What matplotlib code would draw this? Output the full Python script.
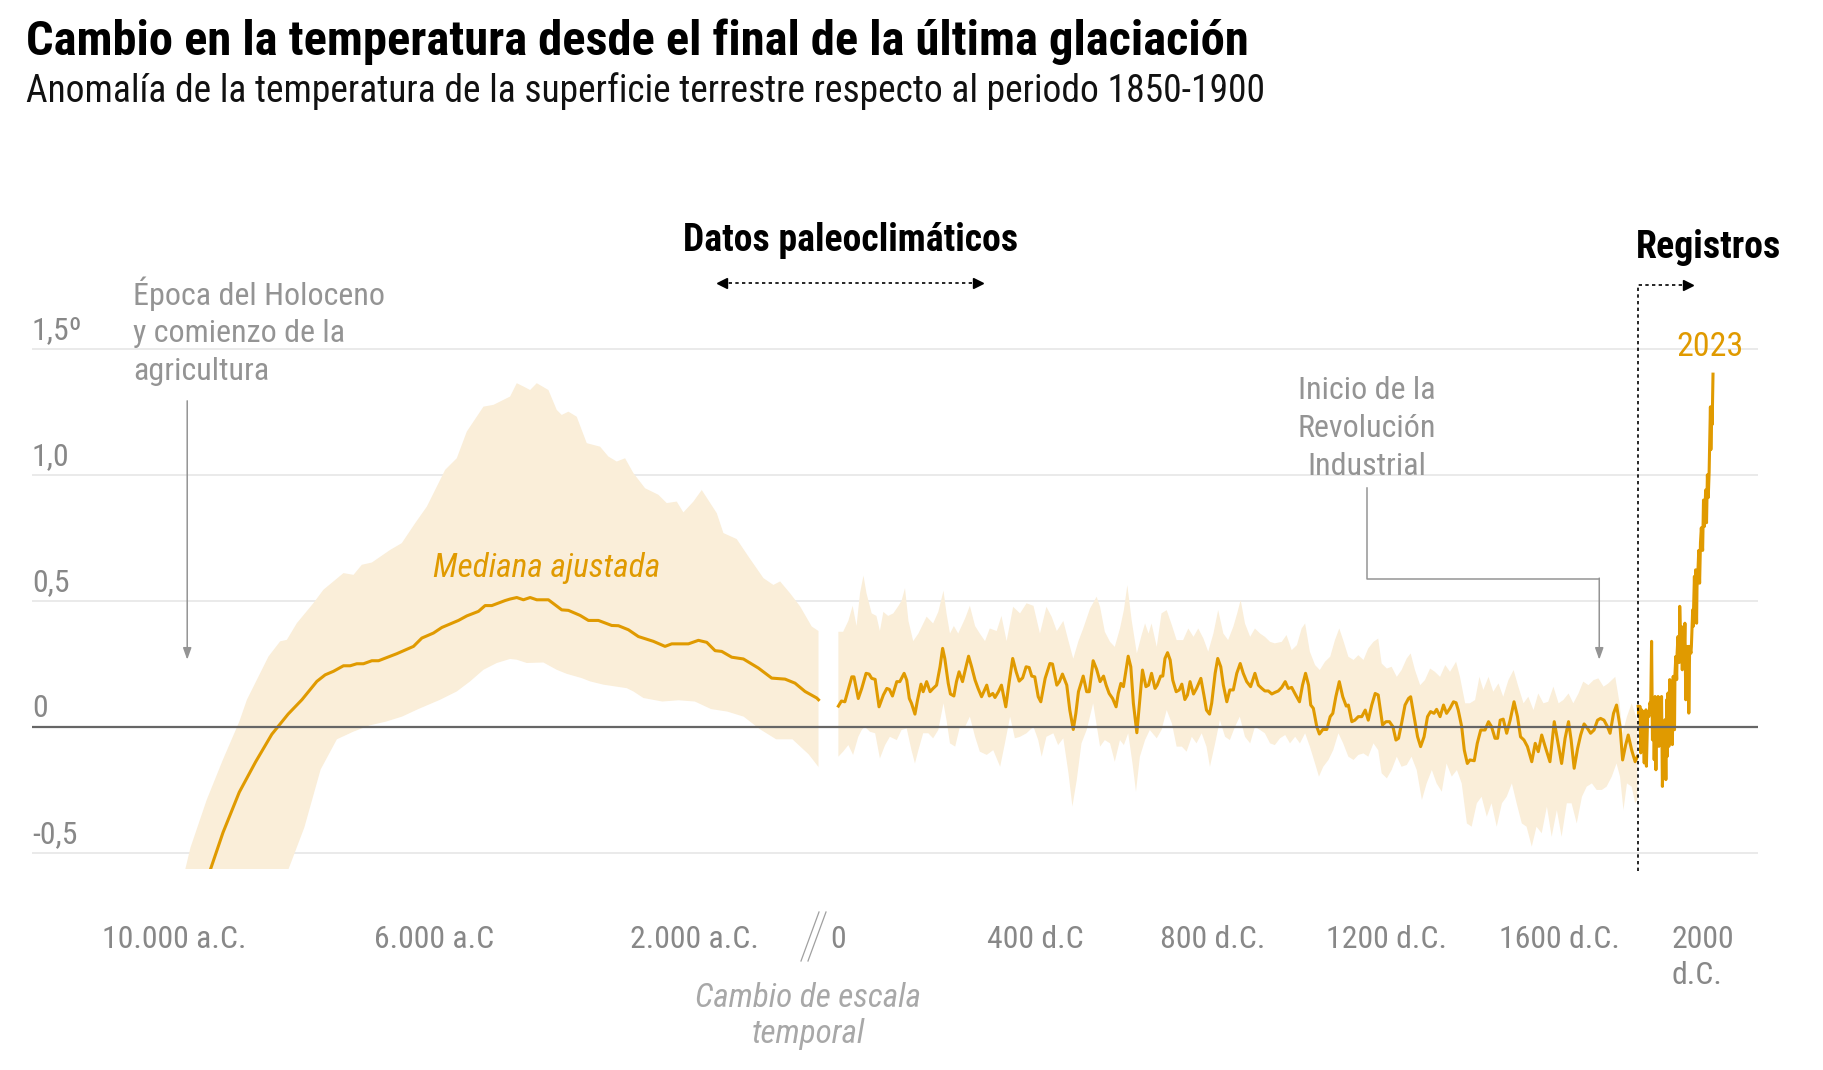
import matplotlib
matplotlib.use('Agg')
import matplotlib.pyplot as plt
from matplotlib import font_manager
from matplotlib.lines import Line2D

# --- data --------------------------------------------------------------------
# Holocene reconstruction (years, negative = a.C.)
holo_years = [-10000, -9750, -9500, -9250, -9000, -8750, -8500, -8250, -8038, -7808, -7680,
              -7553, -7399, -7296, -7194, -7092, -6963, -6860, -6579, -6323, -6195, -6016,
              -5888, -5632, -5504, -5325, -5223, -5120, -4915, -4839, -4736, -4634, -4531,
              -4429, -4250, -4045, -3943, -3763, -3635, -3482, -3277, -3174, -3021, -2867,
              -2637, -2458, -2355, -2099, -1945, -1817, -1689, -1587, -1433, -1254, -1024,
              -819, -614, -461, -307, -127, -100]
holo_median = [-0.95, -0.78, -0.61, -0.42, -0.26, -0.14, -0.03, 0.05, 0.107, 0.18, 0.206,
               0.22, 0.242, 0.242, 0.25, 0.25, 0.262, 0.262, 0.29, 0.319, 0.352, 0.372,
               0.394, 0.422, 0.44, 0.458, 0.481, 0.481, 0.501, 0.507, 0.513, 0.504, 0.513,
               0.504, 0.504, 0.464, 0.462, 0.442, 0.422, 0.422, 0.402, 0.401, 0.385, 0.358,
               0.339, 0.319, 0.329, 0.329, 0.343, 0.335, 0.302, 0.299, 0.276, 0.269, 0.233,
               0.193, 0.189, 0.173, 0.14, 0.114, 0.107]

holo_up_years = [-10000, -9750, -9500, -9250, -9000, -8883, -8551, -8372, -8269, -8116, -7860,
                 -7707, -7399, -7245, -7117, -6963, -6682, -6503, -6298, -6118, -5837, -5658,
                 -5504, -5248, -5095, -4839, -4736, -4634, -4531, -4429, -4250, -4122, -4045,
                 -3943, -3815, -3661, -3456, -3329, -3200, -3072, -2944, -2765, -2560, -2432,
                 -2278, -2176, -2022, -1894, -1663, -1561, -1356, -1177, -946, -793, -690,
                 -537, -383, -204, -100]
holo_up = [-0.75, -0.48, -0.29, -0.13, 0.02, 0.107, 0.279, 0.339, 0.345, 0.411, 0.491,
           0.544, 0.610, 0.603, 0.643, 0.652, 0.702, 0.729, 0.808, 0.874, 1.02, 1.066,
           1.172, 1.271, 1.278, 1.311, 1.364, 1.351, 1.337, 1.364, 1.337, 1.258, 1.238,
           1.251, 1.231, 1.126, 1.112, 1.073, 1.053, 1.066, 1.007, 0.947, 0.921, 0.888,
           0.894, 0.851, 0.894, 0.940, 0.848, 0.769, 0.745, 0.676, 0.590, 0.563, 0.577,
           0.530, 0.478, 0.398, 0.38]

holo_lo_years = [-10000, -9000, -8500, -8250, -8000, -7750, -7500, -7250, -7000, -6750,
                 -6500, -6250, -5914, -5658, -5453, -5248, -5043, -4839, -4736, -4582,
                 -4327, -4122, -3969, -3738, -3610, -3405, -3046, -2944, -2790, -2500,
                 -2250, -2000, -1750, -1500, -1250, -1000, -750, -500, -250, -100]
holo_lo = [-1.3, -0.9, -0.7, -0.57, -0.40, -0.17, -0.05, -0.02, 0.005, 0.02,
           0.04, 0.07, 0.107, 0.14, 0.18, 0.226, 0.253, 0.269, 0.266, 0.253,
           0.255, 0.226, 0.21, 0.193, 0.18, 0.167, 0.153, 0.14, 0.114, 0.10,
           0.105, 0.10, 0.07, 0.06, 0.04, -0.01, -0.05, -0.05, -0.11, -0.16]

# Common Era paleo reconstruction, 0 - 1850 d.C.
paleo_years = [1, 8, 16, 32, 37, 47, 55, 65, 72, 78, 86, 95, 105, 113, 119, 126, 136, 143,
               153, 159, 165, 170, 178, 184, 192, 197, 205, 213, 220, 228, 236, 242, 247,
               255, 260, 268, 274, 280, 288, 296, 302, 309, 317, 324, 332, 344, 350, 358,
               363, 371, 378, 388, 396, 404, 412, 419, 427, 435, 442, 448, 455, 463, 469,
               479, 490, 496, 506, 512, 519, 529, 536, 544, 550, 556, 567, 575, 581, 590,
               598, 606, 614, 620, 627, 635, 643, 648, 654, 660, 666, 671, 677, 683, 691,
               697, 704, 712, 718, 725, 733, 738, 746, 751, 756, 762, 768, 774, 782, 789,
               795, 802, 808, 814, 822, 829, 839, 846, 852, 859, 864, 872, 878, 885, 891,
               899, 906, 914, 922, 930, 937, 945, 954, 964, 972, 980, 987, 995, 1003, 1010,
               1018, 1026, 1034, 1041, 1049, 1057, 1067, 1074, 1081, 1088, 1093, 1099, 1107,
               1113, 1121, 1130, 1138, 1144, 1151, 1159, 1167, 1175, 1180, 1188, 1195, 1203,
               1211, 1219, 1226, 1234, 1242, 1249, 1259, 1267, 1275, 1283, 1290, 1296, 1303,
               1311, 1319, 1324, 1332, 1340, 1347, 1355, 1363, 1370, 1378, 1384, 1392, 1400,
               1407, 1415, 1423, 1429, 1434, 1442, 1448, 1455, 1461, 1471, 1478, 1486, 1496,
               1504, 1511, 1519, 1525, 1531, 1538, 1546, 1554, 1563, 1571, 1578, 1586, 1594,
               1604, 1612, 1619, 1627, 1635, 1646, 1656, 1666, 1673, 1681, 1689, 1695, 1702,
               1710, 1717, 1725, 1733, 1740, 1748, 1756, 1763, 1771, 1779, 1785, 1793, 1800,
               1808, 1814, 1821, 1827, 1835, 1843, 1848]
paleo_median = [0.082, 0.102, 0.099, 0.198, 0.198, 0.112, 0.152, 0.212, 0.209, 0.192, 0.188,
                0.079, 0.126, 0.152, 0.148, 0.122, 0.179, 0.179, 0.212, 0.185, 0.112, 0.093,
                0.050, 0.106, 0.169, 0.139, 0.179, 0.139, 0.152, 0.165, 0.238, 0.311, 0.271,
                0.172, 0.130, 0.122, 0.179, 0.218, 0.179, 0.238, 0.280, 0.238, 0.185, 0.152,
                0.119, 0.165, 0.122, 0.132, 0.116, 0.139, 0.165, 0.079, 0.179, 0.271, 0.218,
                0.181, 0.194, 0.238, 0.235, 0.201, 0.198, 0.119, 0.099, 0.192, 0.251, 0.249,
                0.165, 0.179, 0.209, 0.165, 0.066, -0.011, 0.053, 0.139, 0.201, 0.139, 0.139,
                0.262, 0.228, 0.179, 0.201, 0.165, 0.132, 0.112, 0.079, 0.132, 0.172, 0.159,
                0.225, 0.280, 0.238, 0.093, -0.024, 0.093, 0.225, 0.159, 0.165, 0.212, 0.152,
                0.165, 0.201, 0.201, 0.271, 0.294, 0.265, 0.185, 0.139, 0.146, 0.169, 0.108,
                0.126, 0.179, 0.130, 0.152, 0.192, 0.126, 0.066, 0.050, 0.093, 0.212, 0.271,
                0.238, 0.165, 0.099, 0.146, 0.146, 0.212, 0.251, 0.212, 0.179, 0.159, 0.212,
                0.165, 0.152, 0.142, 0.142, 0.130, 0.136, 0.142, 0.156, 0.179, 0.152, 0.156,
                0.130, 0.099, 0.165, 0.212, 0.165, 0.086, 0.073, 0.000, -0.029, -0.011,
                -0.011, 0.040, 0.053, 0.119, 0.179, 0.119, 0.082, 0.086, 0.020, 0.026, 0.040,
                0.040, 0.066, 0.026, 0.086, 0.132, 0.126, 0.007, 0.020, 0.020, 0.000, -0.053,
                -0.046, 0.013, 0.086, 0.112, 0.119, 0.040, -0.040, -0.079, -0.040, 0.040,
                0.060, 0.053, 0.069, 0.040, 0.086, 0.053, 0.073, 0.099, 0.095, 0.066, 0.000,
                -0.093, -0.146, -0.132, -0.135, -0.066, -0.013, -0.013, 0.020, 0.000, -0.046,
                -0.046, 0.026, 0.030, -0.026, 0.026, 0.099, 0.040, -0.040, -0.053, -0.079,
                -0.139, -0.066, -0.099, -0.033, -0.079, -0.139, 0.020, -0.079, -0.146, -0.046,
                0.020, -0.053, -0.165, -0.086, -0.033, 0.011, -0.007, -0.026, -0.013, 0.026,
                0.033, 0.026, 0.000, -0.026, 0.053, 0.086, 0.000, -0.132, -0.073, -0.033,
                -0.093, -0.139, -0.119]

band_up_years = [1, 12, 24, 34, 43, 51, 59, 66, 78, 89, 97, 105, 116, 128, 140, 147, 155, 163,
                 174, 186, 205, 220, 232, 244, 251, 259, 268, 278, 286, 294, 305, 317, 328,
                 340, 351, 367, 378, 390, 405, 421, 436, 452, 467, 482, 494, 506, 521, 533,
                 544, 556, 567, 583, 598, 606, 617, 629, 640, 652, 661, 669, 679, 691, 702,
                 710, 718, 725, 737, 748, 760, 772, 783, 798, 810, 822, 833, 845, 856, 868,
                 879, 891, 902, 914, 923, 931, 941, 953, 964, 976, 987, 999, 1010, 1026, 1037,
                 1049, 1061, 1072, 1080, 1091, 1103, 1114, 1126, 1138, 1149, 1159, 1168, 1180,
                 1192, 1203, 1215, 1226, 1238, 1249, 1257, 1269, 1280, 1292, 1303, 1315, 1324,
                 1334, 1346, 1357, 1369, 1380, 1392, 1404, 1415, 1429, 1438, 1450, 1461, 1473,
                 1483, 1492, 1504, 1515, 1527, 1538, 1550, 1562, 1573, 1585, 1596, 1608, 1619,
                 1631, 1642, 1654, 1666, 1677, 1689, 1700, 1712, 1723, 1735, 1747, 1758, 1770,
                 1781, 1797, 1807, 1814, 1824, 1835, 1848]
band_up = [0.377, 0.377, 0.42, 0.48, 0.40, 0.53, 0.60, 0.53, 0.45, 0.44, 0.38, 0.456, 0.44,
           0.45, 0.48, 0.50, 0.55, 0.42, 0.34, 0.37, 0.437, 0.41, 0.456, 0.54, 0.45, 0.37,
           0.40, 0.37, 0.40, 0.43, 0.48, 0.40, 0.37, 0.34, 0.39, 0.38, 0.44, 0.34, 0.476,
           0.45, 0.49, 0.48, 0.37, 0.476, 0.437, 0.38, 0.42, 0.34, 0.27, 0.34, 0.39, 0.47,
           0.516, 0.476, 0.377, 0.337, 0.317, 0.39, 0.463, 0.562, 0.423, 0.291, 0.364, 0.41,
           0.37, 0.41, 0.317, 0.45, 0.463, 0.403, 0.344, 0.344, 0.39, 0.357, 0.39, 0.35,
           0.298, 0.37, 0.463, 0.37, 0.344, 0.397, 0.45, 0.503, 0.41, 0.357, 0.39, 0.37,
           0.357, 0.337, 0.331, 0.337, 0.364, 0.304, 0.324, 0.39, 0.41, 0.298, 0.245, 0.225,
           0.258, 0.278, 0.344, 0.39, 0.344, 0.278, 0.265, 0.284, 0.265, 0.311, 0.337, 0.35,
           0.251, 0.231, 0.238, 0.198, 0.225, 0.271, 0.291, 0.225, 0.165, 0.185, 0.231,
           0.218, 0.198, 0.245, 0.218, 0.258, 0.198, 0.093, 0.093, 0.106, 0.198, 0.146,
           0.198, 0.139, 0.172, 0.119, 0.185, 0.225, 0.159, 0.093, 0.119, 0.066, 0.132,
           0.093, 0.099, 0.159, 0.093, 0.106, 0.132, 0.093, 0.132, 0.179, 0.165, 0.185,
           0.192, 0.159, 0.172, 0.198, 0.093, -0.026, 0.040, 0.093, 0.026]

band_lo_years = [1, 12, 24, 35, 47, 55, 62, 74, 86, 97, 109, 120, 136, 147, 159, 170, 178, 186,
                 197, 209, 220, 232, 244, 251, 259, 271, 282, 294, 305, 317, 328, 344, 359,
                 375, 386, 398, 409, 421, 436, 452, 463, 471, 482, 498, 509, 521, 533, 542,
                 552, 563, 575, 590, 606, 617, 629, 640, 652, 661, 671, 681, 689, 698, 710,
                 721, 737, 748, 760, 772, 783, 795, 806, 818, 829, 841, 852, 860, 872, 883,
                 895, 906, 918, 929, 941, 953, 964, 976, 987, 999, 1010, 1022, 1034, 1045,
                 1057, 1068, 1080, 1091, 1103, 1112, 1122, 1134, 1145, 1157, 1168, 1180, 1192,
                 1203, 1215, 1226, 1238, 1249, 1257, 1269, 1280, 1292, 1303, 1315, 1326, 1338,
                 1350, 1361, 1373, 1384, 1396, 1407, 1419, 1431, 1442, 1454, 1465, 1477, 1488,
                 1500, 1511, 1523, 1535, 1546, 1558, 1569, 1581, 1592, 1604, 1615, 1627, 1639,
                 1650, 1662, 1673, 1685, 1696, 1708, 1720, 1731, 1743, 1754, 1766, 1777, 1789,
                 1800, 1808, 1816, 1824, 1835, 1843, 1848]
band_lo = [-0.119, -0.099, -0.073, -0.112, -0.040, -0.013, 0.0, -0.020, -0.026, -0.126,
           -0.073, -0.040, -0.053, -0.013, -0.007, -0.093, -0.146, -0.093, -0.026, -0.026,
           -0.046, -0.013, 0.093, 0.026, -0.066, -0.079, 0.0, 0.0, 0.040, -0.040, -0.099,
           -0.112, -0.093, -0.159, -0.066, 0.040, -0.046, -0.040, -0.026, 0.0, -0.053,
           -0.119, -0.040, -0.026, -0.073, -0.046, -0.185, -0.317, -0.212, -0.066, -0.013,
           0.093, -0.079, -0.053, -0.066, -0.139, -0.053, -0.073, -0.026, -0.146, -0.258,
           -0.119, -0.053, -0.013, -0.046, -0.013, 0.066, 0.013, -0.079, -0.079, -0.099,
           -0.040, -0.066, -0.026, -0.079, -0.159, -0.066, 0.026, -0.040, -0.053, 0.0, 0.040,
           -0.040, -0.066, 0.0, -0.013, -0.026, -0.066, -0.073, -0.046, -0.033, -0.066,
           -0.040, -0.066, -0.026, -0.079, -0.146, -0.198, -0.159, -0.132, -0.093, -0.026,
           -0.066, -0.119, -0.132, -0.112, -0.106, -0.119, -0.066, -0.093, -0.185, -0.205,
           -0.172, -0.119, -0.159, -0.152, -0.119, -0.172, -0.291, -0.225, -0.172, -0.225,
           -0.258, -0.146, -0.198, -0.172, -0.225, -0.384, -0.397, -0.304, -0.278, -0.357,
           -0.304, -0.397, -0.304, -0.278, -0.225, -0.304, -0.384, -0.397, -0.476, -0.397,
           -0.423, -0.317, -0.437, -0.331, -0.437, -0.304, -0.304, -0.384, -0.278, -0.238,
           -0.225, -0.251, -0.251, -0.238, -0.198, -0.146, -0.198, -0.331, -0.225, -0.238,
           -0.304, -0.291]

# Instrumental records 1850 - 2023
rec_years = [1850, 1852, 1854, 1856, 1858, 1860, 1862, 1864, 1865, 1868, 1869, 1872, 1875,
             1877, 1879, 1881, 1883, 1886, 1887, 1889, 1891, 1893, 1895, 1896, 1898, 1900,
             1903, 1904, 1906, 1908, 1909, 1912, 1914, 1916, 1917, 1919, 1921, 1923, 1926,
             1927, 1929, 1931, 1934, 1935, 1937, 1939, 1940, 1942, 1945, 1946, 1949, 1950,
             1952, 1954, 1956, 1958, 1960, 1962, 1964, 1966, 1967, 1969, 1972, 1973, 1976,
             1977, 1980, 1981, 1983, 1985, 1986, 1988, 1990, 1992, 1994, 1996, 1999, 2001,
             2003, 2006, 2008, 2010, 2012, 2014, 2015, 2017, 2018, 2020, 2021, 2023]
rec_values = [0.081, 0.041, 0.081, -0.104, 0.067, -0.025, 0.061, -0.144, 0.041, 0.067,
              -0.157, 0.054, 0.041, 0.095, 0.081, 0.339, -0.052, 0.028, -0.131, 0.120,
              -0.171, 0.107, 0.041, 0.120, -0.078, 0.114, -0.038, 0.120, -0.237, -0.078,
              -0.184, 0.028, -0.210, 0.107, -0.118, 0.134, -0.078, 0.187, 0.001, 0.067,
              -0.071, 0.200, -0.012, 0.207, 0.279, 0.187, 0.292, 0.358, 0.255, 0.478, 0.266,
              0.398, 0.226, 0.385, 0.266, 0.411, 0.107, 0.319, 0.200, 0.319, 0.054, 0.319,
              0.292, 0.319, 0.464, 0.398, 0.597, 0.503, 0.623, 0.411, 0.556, 0.61, 0.70, 0.57,
              0.73, 0.79, 0.70, 0.90, 0.795, 0.94, 0.81, 1.00, 0.91, 1.01, 1.10, 1.27, 1.10,
              1.27, 1.20, 1.40]

y_ticks = [-0.5, 0, 0.5, 1.0, 1.5]
y_labels = ['-0,5', '0', '0,5', '1,0', '1,5º']
holo_ticks = [-10000, -6000, -2000]
holo_labels = ['10.000 a.C.', '6.000 a.C', '2.000 a.C.']
ce_ticks = [0, 400, 800, 1200, 1600, 2000]
ce_labels = ['0', '400 d.C', '800 d.C.', '1200 d.C.', '1600 d.C.', '2000']

# --- style ------------------------------------------------------------------
ORANGE = '#e09a00'
BAND = '#faeed9'
GRID = '#e4e4e4'
GRAY = '#949494'
TICK = '#888888'

names = {f.name for f in font_manager.fontManager.ttflist}
COND = next((n for n in ['Roboto Condensed', 'Liberation Sans Narrow', 'Open Sans Condensed']
             if n in names), 'Liberation Sans')
plt.rcParams['font.family'] = [COND, 'DejaVu Sans']

W, H = 1824, 1070
fig = plt.figure(figsize=(W / 100, H / 100), dpi=100)
renderer = fig.canvas.get_renderer()


def fx(x):
    return x / W


def fy(y):
    return 1 - y / H


def fit(t, width):
    # scale a text so that it spans the given width in pixels
    w = t.get_window_extent(renderer).width
    t.set_fontsize(t.get_fontsize() * width / w)
    return t


def text_width(s, size):
    t = fig.text(0, 0, s, fontsize=size)
    w = t.get_window_extent(renderer).width
    t.remove()
    return w


# two panels: holocene scale and common-era scale
top, bottom = 286, 869
ax1 = fig.add_axes([fx(32), fy(bottom), fx(828) - fx(32), fy(top) - fy(bottom)])
ax2 = fig.add_axes([fx(828), fy(bottom), fx(1758) - fx(828), fy(top) - fy(bottom)])
ax1.set_xlim(-12185, 46)
ax2.set_xlim(-23, 2127)
for ax in (ax1, ax2):
    ax.set_ylim(-0.565, 1.75)
    ax.patch.set_alpha(0)
    for s in ax.spines.values():
        s.set_visible(False)
    ax.set_xticks([])
    ax.set_yticks([])
    for v in y_ticks:
        if v == 0:
            ax.axhline(v, color='#666666', lw=1.6, zorder=5)
        else:
            ax.axhline(v, color=GRID, lw=1.1, zorder=0)

# bands and lines
ax1.fill(holo_up_years + holo_lo_years[::-1], holo_up + holo_lo[::-1],
         color=BAND, lw=0, zorder=1)
ax1.plot(holo_years, holo_median, color=ORANGE, lw=2.2, zorder=4)

ax2.fill(band_up_years + band_lo_years[::-1], band_up + band_lo[::-1],
         color=BAND, lw=0, zorder=1)
ax2.plot(paleo_years, paleo_median, color=ORANGE, lw=2.2, zorder=4)
ax2.plot(rec_years, rec_values, color=ORANGE, lw=2.2, zorder=4)

# tick labels
fs_tick = 20 * 145 / text_width(holo_labels[0], 20)

for v, lab in zip(y_ticks, y_labels):
    ax1.annotate(lab, xy=(0, v), xycoords=('axes fraction', 'data'), xytext=(0, 10),
                 textcoords='offset pixels', ha='left', va='baseline', color=TICK,
                 fontsize=fs_tick)

for yr, lab in zip(holo_ticks, holo_labels):
    ax1.annotate(lab, xy=(yr, 0), xycoords=('data', 'axes fraction'), xytext=(0, -79),
                 textcoords='offset pixels', ha='center', va='baseline', color=TICK,
                 fontsize=fs_tick)

for yr, lab in zip(ce_ticks, ce_labels):
    # centre the number itself on its year
    w = text_width(lab.split(' ')[0], fs_tick)
    ax2.annotate(lab, xy=(yr, 0), xycoords=('data', 'axes fraction'), xytext=(-w / 2, -79),
                 textcoords='offset pixels', ha='left', va='baseline', color=TICK,
                 fontsize=fs_tick)
    if yr == 2000:
        ax2.annotate('d.C.', xy=(yr, 0), xycoords=('data', 'axes fraction'),
                     xytext=(-w / 2, -115), textcoords='offset pixels', ha='left',
                     va='baseline', color=TICK, fontsize=fs_tick)

# scale break marks
for dx in (0, 7):
    fig.add_artist(Line2D([fx(801 + dx), fx(819 + dx)], [fy(961), fy(912)],
                          color='#a0a0a0', lw=0.9))
t = fig.text(fx(808), fy(1007), 'Cambio de escala', ha='center', va='baseline',
             color='#a8a8a8', style='italic', fontsize=fs_tick)
fit(t, 226)
fig.text(fx(808), fy(1043), 'temporal', ha='center', va='baseline', color='#a8a8a8',
         style='italic', fontsize=t.get_fontsize())

# titles
t = fig.text(fx(26), fy(55), 'Cambio en la temperatura desde el final de la última glaciación',
             ha='left', va='baseline', fontsize=30, weight='bold', color='black')
fit(t, 1223)
t = fig.text(fx(26), fy(102), 'Anomalía de la temperatura de la superficie terrestre respecto al periodo 1850-1900',
             ha='left', va='baseline', fontsize=24, color='#111111')
fit(t, 1244)

# section headers with dotted arrows
t = fig.text(fx(851), fy(251), 'Datos paleoclimáticos', ha='center', va='baseline',
             fontsize=22, weight='bold', color='black')
fit(t, 335)
fig.add_artist(Line2D([fx(722), fx(978)], [fy(283), fy(283)], color='black', lw=1.2,
                      linestyle=(0, (2, 2))))
fig.add_artist(Line2D([fx(722)], [fy(283)], marker='<', ms=7, color='black', lw=0))
fig.add_artist(Line2D([fx(978)], [fy(283)], marker='>', ms=7, color='black', lw=0))

t = fig.text(fx(1636), fy(258), 'Registros', ha='left', va='baseline', fontsize=22,
             weight='bold', color='black')
fit(t, 145)
ax2.plot([1850, 1850, 1965], [-0.571, 1.754, 1.754], color='black', lw=1.2,
         linestyle=(0, (2, 2)), clip_on=False, zorder=6)
ax2.plot([1965], [1.754], marker='>', ms=7, color='black', lw=0, clip_on=False)

# annotations
arrow = dict(arrowstyle='-|>,head_length=0.7,head_width=0.25', color=GRAY, lw=1.1,
             shrinkA=0, shrinkB=0)
t = fig.text(fx(133), fy(305), 'Época del Holoceno', ha='left', va='baseline',
             color=GRAY, fontsize=fs_tick)
fs_ann = fit(t, 251).get_fontsize()
fig.text(fx(133), fy(342), 'y comienzo de la', ha='left', va='baseline', color=GRAY, fontsize=fs_ann)
fig.text(fx(133), fy(380), 'agricultura', ha='left', va='baseline', color=GRAY, fontsize=fs_ann)
ax1.annotate('', xy=(-9800, 0.266), xytext=(-9800, 1.294), arrowprops=arrow,
             annotation_clip=False)

for yy, line in zip([399, 437, 475], ['Inicio de la', 'Revolución', 'Industrial']):
    fig.text(fx(1367), fy(yy), line, ha='center', va='baseline', color=GRAY, fontsize=fs_ann)
ax2.plot([1223, 1223, 1760], [0.948, 0.587, 0.587], color=GRAY, lw=1.1, clip_on=False)
ax2.annotate('', xy=(1760, 0.266), xytext=(1760, 0.59), arrowprops=arrow)

t = fig.text(fx(547), fy(577), 'Mediana ajustada', ha='center', va='baseline',
             color=ORANGE, style='italic', fontsize=20)
fit(t, 227)
t = fig.text(fx(1710), fy(356), '2023', ha='center', va='baseline', color=ORANGE, fontsize=20)
fit(t, 67)

fig.savefig('out.png', dpi=100)
